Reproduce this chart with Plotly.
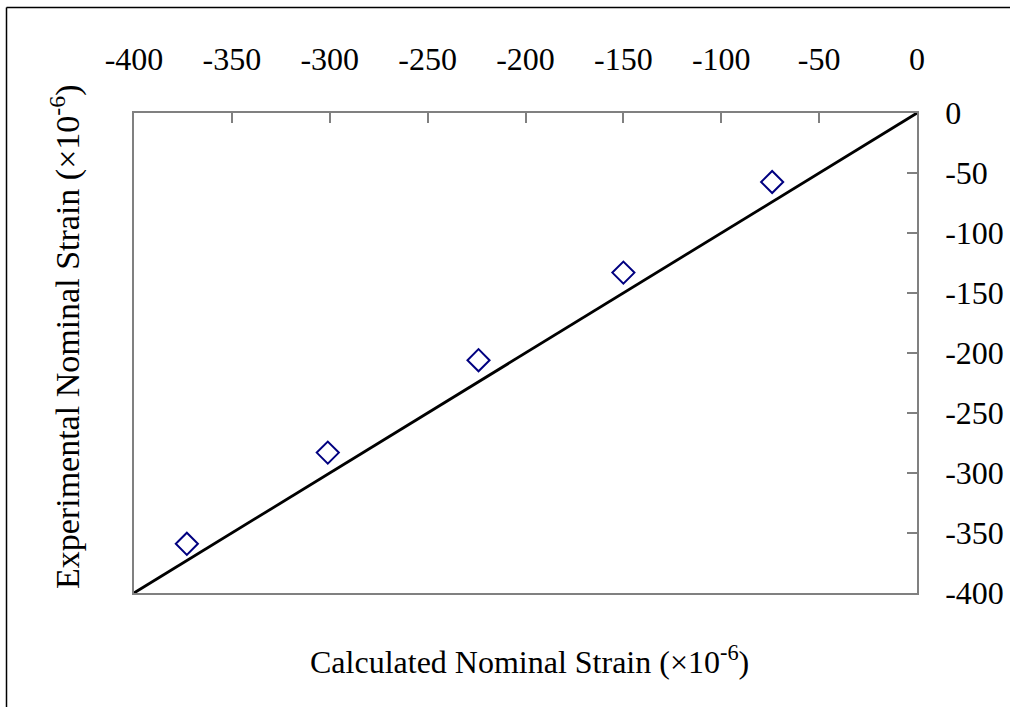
import plotly.graph_objects as go

calc_strain = [-373, -301, -224, -150, -74]
exp_strain = [-359, -283, -206, -133, -57.5]
line_x = [-400, 0]
line_y = [-400, 0]
tick_vals = [-400, -350, -300, -250, -200, -150, -100, -50, 0]
tick_labels = ["-400", "-350", "-300", "-250", "-200", "-150", "-100", "-50", "0"]

FONT = "Liberation Serif, Times New Roman, serif"
W, H = 1019, 707
L, R, T, B = 134, 102, 113, 114
pw, ph = W - L - R, H - T - B

def px(x):
    return (x - L) / pw

def py(y):
    return (H - B - y) / ph

fig = go.Figure()
fig.add_trace(go.Scatter(x=line_x, y=line_y, mode="lines",
                         line=dict(color="black", width=2.8), showlegend=False,
                         hoverinfo="skip"))
fig.add_trace(go.Scatter(x=calc_strain, y=exp_strain, mode="markers",
                         marker=dict(symbol="diamond-open", size=17,
                                     color="#000080", line=dict(width=2, color="#000080")),
                         showlegend=False))

axis_common = dict(range=[-400, 0], tickvals=tick_vals, ticktext=tick_labels,
                   ticks="inside", ticklen=10,
                   tickwidth=1.5, tickcolor="#808080", showline=True, linecolor="#808080",
                   linewidth=1.5, mirror=True, showgrid=False, zeroline=False,
                   tickfont=dict(family=FONT, size=32, color="black"))

fig.update_xaxes(side="top", ticklabelstandoff=28, **axis_common)
fig.update_yaxes(side="right", ticklabelstandoff=20, **axis_common)

fig.update_layout(
    width=W, height=H,
    margin=dict(l=L, r=R, t=T, b=B),
    plot_bgcolor="white", paper_bgcolor="white",
    font=dict(family=FONT, size=32, color="black"),
    annotations=[
        dict(text="Calculated Nominal Strain (×10<sup>-6</sup>)", xref="paper", yref="paper",
             x=px(529), y=py(660), showarrow=False, xanchor="center", yanchor="middle",
             font=dict(family=FONT, size=32, color="black")),
        dict(text="Experimental Nominal Strain (×10<sup>-6</sup>)", xref="paper", yref="paper",
             x=px(65), y=py(337), showarrow=False, xanchor="center", yanchor="middle",
             textangle=-90, font=dict(family=FONT, size=34, color="black")),
    ],
    shapes=[
        dict(type="line", xref="paper", yref="paper", x0=px(6.5), x1=px(6.5),
             y0=py(7.5), y1=py(720), line=dict(color="black", width=1.5)),
        dict(type="line", xref="paper", yref="paper", x0=px(6.5), x1=px(1010),
             y0=py(7.5), y1=py(7.5), line=dict(color="black", width=1.5)),
    ],
)

fig.write_html("out.html", config={"displayModeBar": False},
               post_script="document.body.style.margin='0';")
